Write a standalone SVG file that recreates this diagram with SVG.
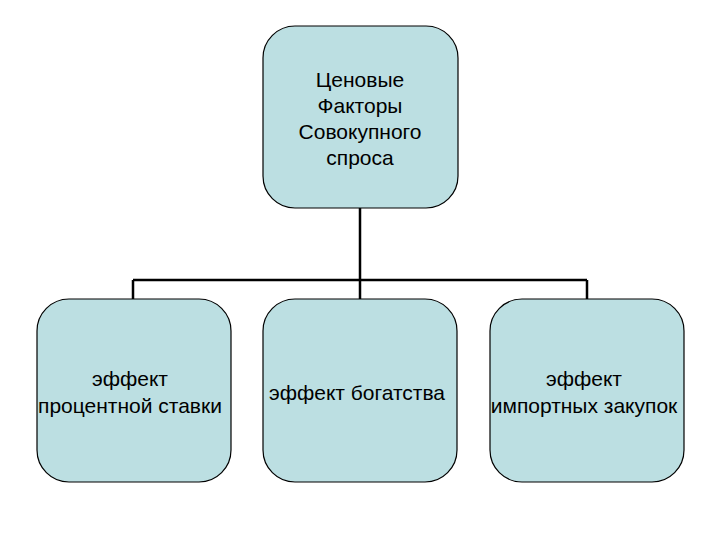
<svg xmlns="http://www.w3.org/2000/svg" width="720" height="540" viewBox="0 0 720 540">
<style>
.box{fill:#bcdfe2;stroke:#000;stroke-width:1.2}
.t{font-family:"Liberation Sans",Arial,sans-serif;font-size:21px;fill:#000;text-anchor:middle}
.c{fill:none;stroke:#000;stroke-width:2.5}
</style>
<rect width="720" height="540" fill="#fff"/>
<g id="connectors">
<path class="c" d="M360 208V280M133 280H587M133 280V299M360 280V299M587 280V299"/>
</g>
<g id="top">
<rect class="box" x="263" y="26" width="195" height="182" rx="32"/>
<text class="t" x="360" y="87">Ценовые</text>
<text class="t" x="360" y="113">Факторы</text>
<text class="t" x="360" y="139">Совокупного</text>
<text class="t" x="360" y="165">спроса</text>
</g>
<g id="left">
<rect class="box" x="37" y="299" width="194" height="183" rx="32"/>
<text class="t" x="130" y="386">эффект</text>
<text class="t" x="130" y="413">процентной ставки</text>
</g>
<g id="middle">
<rect class="box" x="263" y="299" width="194" height="183" rx="32"/>
<text class="t" x="357" y="400">эффект богатства</text>
</g>
<g id="right">
<rect class="box" x="490" y="299" width="194" height="183" rx="32"/>
<text class="t" x="584" y="386">эффект</text>
<text class="t" x="584" y="413">импортных закупок</text>
</g>
</svg>
